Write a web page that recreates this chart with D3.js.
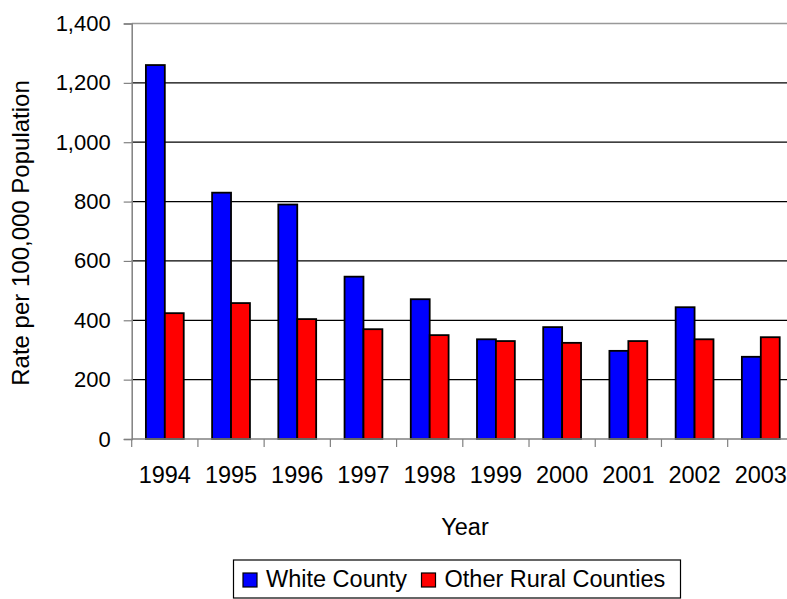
<!DOCTYPE html>
<html><head><meta charset="utf-8">
<script src="https://cdn.jsdelivr.net/npm/d3@7"></script>
<style>body{margin:0;background:#fff}svg{display:block}text{font-family:"Liberation Sans",Arial,sans-serif;fill:#000}</style>
</head><body><svg id="c" width="787" height="599"></svg>
<script>
const years = ["1994","1995","1996","1997","1998","1999","2000","2001","2002","2003"];
const seriesNames = ["White County","Other Rural Counties"];
const whiteCounty = [1260,830,790,547,471,336,377,297,444,277];
const otherRural = [424,458,404,370,350,330,324,330,336,343];
const yTicks = [0,200,400,600,800,1000,1200,1400];
const colors = ["#0000FF","#FF0000"];

const svg = d3.select("#c");
const pL = 131.7, pR = 793.9, pT = 23.5, pB = 439;
const x = d3.scaleBand().domain(years).range([pL, pR]).padding(0);
const bw = x.bandwidth();
const xs = d3.scaleBand().domain(seriesNames).range([bw*0.2143, bw*0.7857]).padding(0);
const y = d3.scaleLinear().domain([0,1400]).range([pB, pT]);
const fmt = d3.format(",");

// gridlines
svg.append("g").selectAll("line").data(yTicks.filter(d=>d>0 && d<1400)).join("line")
  .attr("x1", pL).attr("x2", pR).attr("y1", d=>y(d)).attr("y2", d=>y(d))
  .attr("stroke","#000").attr("stroke-width",1.2);
svg.append("line").attr("x1",pL).attr("x2",pR).attr("y1",y(1400)).attr("y2",y(1400))
  .attr("stroke","#999").attr("stroke-width",1.5);

// bars
const data = years.map((yr,i)=>({yr, vals:[whiteCounty[i], otherRural[i]]}));
const g = svg.append("g").selectAll("g").data(data).join("g")
  .attr("transform", d=>`translate(${x(d.yr)},0)`);
g.selectAll("rect").data(d=>d.vals.map((v,j)=>({v,j}))).join("rect")
  .attr("x", d=>xs(seriesNames[d.j])).attr("width", xs.bandwidth())
  .attr("y", d=>y(d.v)).attr("height", d=>y(0)-y(d.v))
  .attr("fill", d=>colors[d.j]).attr("stroke","#000").attr("stroke-width",1.8);

// y axis
const ya = svg.append("g").attr("transform",`translate(${pL},0)`)
  .call(d3.axisLeft(y).tickValues(yTicks).tickFormat(fmt).tickSize(8).tickPadding(13));
ya.select(".domain").attr("stroke","#808080").attr("stroke-width",1.5);
ya.selectAll(".tick line").attr("stroke","#808080").attr("stroke-width",1.2);
ya.selectAll("text").attr("font-size",22).attr("font-family",'"Liberation Sans",Arial,sans-serif').attr("fill","#000");

// x axis
const xa = svg.append("g").attr("transform",`translate(0,${pB})`);
xa.append("line").attr("x1",pL).attr("x2",pR).attr("stroke","#808080").attr("stroke-width",1.5);
const bounds = years.map(d=>x(d));
xa.selectAll("line.t").data(bounds).join("line").attr("class","t")
  .attr("x1",d=>d).attr("x2",d=>d).attr("y1",0).attr("y2",8)
  .attr("stroke","#808080").attr("stroke-width",1.2);
xa.selectAll("text").data(years).join("text")
  .attr("x", d=>x(d)+bw/2).attr("y", 44).attr("text-anchor","middle")
  .attr("font-size",23.5).text(d=>d);

// titles
svg.append("text").attr("x",465).attr("y",535).attr("text-anchor","middle").attr("font-size",23.5).text("Year");
svg.append("text").attr("transform","translate(29,233) rotate(-90)").attr("text-anchor","middle")
  .attr("font-size",24).text("Rate per 100,000 Population");

// legend
const lg = svg.append("g");
lg.append("rect").attr("x",233.5).attr("y",560).attr("width",447).attr("height",38)
  .attr("fill","#fff").attr("stroke","#000").attr("stroke-width",1.2);
const lx = [243, 421.5];
seriesNames.forEach((n,i)=>{
  lg.append("rect").attr("x",lx[i]).attr("y",573).attr("width",14).attr("height",14)
    .attr("fill",colors[i]).attr("stroke","#000").attr("stroke-width",1.2);
  lg.append("text").attr("x",lx[i]+23).attr("y",587).attr("font-size",23.5).text(n);
});
</script></body></html>
